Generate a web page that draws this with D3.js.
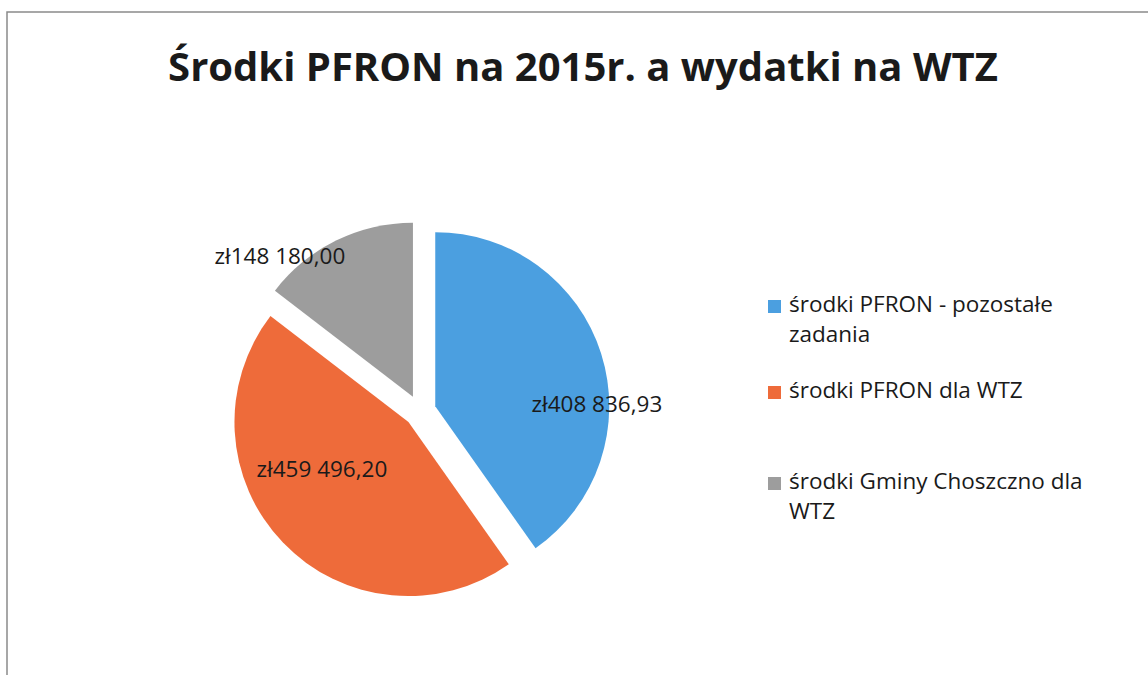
<!DOCTYPE html>
<html>
<head>
<meta charset="utf-8">
<script src="https://cdn.jsdelivr.net/npm/d3@7"></script>
<style>
  body { margin: 0; background: #fff; }
  text { font-family: "Open Sans", sans-serif; fill: #1a1a1a; }
</style>
</head>
<body>
<svg id="chart"></svg>
<script>
const categories = [
  "środki PFRON - pozostałe zadania",
  "środki PFRON dla WTZ",
  "środki Gminy Choszczno dla WTZ"
];
const values = [408836.93, 459496.20, 148180.00];
const valueLabels = ["zł408 836,93", "zł459 496,20", "zł148 180,00"];
const legendLines = [
  ["środki PFRON - pozostałe", "zadania"],
  ["środki PFRON dla WTZ"],
  ["środki Gminy Choszczno dla", "WTZ"]
];
const colors = ["#4b9fe0", "#ee6b3a", "#9d9d9d"];

const width = 1148;
const height = 675;

const svg = d3.select("#chart")
  .attr("width", width)
  .attr("height", height);

// chart frame (top and left edge visible in the scan)
svg.append("path")
  .attr("d", `M7,${height} L7,12 L${width},12`)
  .attr("fill", "none")
  .attr("stroke", "#8a8a8a")
  .attr("stroke-width", 1.5);

svg.append("text")
  .attr("x", 583)
  .attr("y", 81)
  .attr("text-anchor", "middle")
  .style("font-size", "40px")
  .style("font-weight", "bold")
  .text("Środki PFRON na 2015r. a wydatki na WTZ");

const cx = 420, cy = 411, radius = 174, explode = 16;

const pie = d3.pie().sort(null).value(d => d);
const arcs = pie(values);
const arc = d3.arc().innerRadius(0).outerRadius(radius);

const g = svg.append("g").attr("transform", `translate(${cx},${cy})`);

g.selectAll("path.slice")
  .data(arcs)
  .join("path")
  .classed("slice", true)
  .attr("d", arc)
  .attr("fill", (d, i) => colors[i])
  .attr("transform", d => {
    const mid = (d.startAngle + d.endAngle) / 2;
    return `translate(${Math.sin(mid) * explode},${-Math.cos(mid) * explode})`;
  });

// best-fit label spots as (angle in degrees from 12 o'clock, distance from centre)
const labelSpots = [[87.7, 177], [239.4, 114], [317.9, 209]];

g.selectAll("text.value")
  .data(arcs)
  .join("text")
  .classed("value", true)
  .attr("x", (d, i) => Math.sin(labelSpots[i][0] * Math.PI / 180) * labelSpots[i][1])
  .attr("y", (d, i) => -Math.cos(labelSpots[i][0] * Math.PI / 180) * labelSpots[i][1])
  .attr("dy", "0.35em")
  .attr("text-anchor", "middle")
  .style("font-size", "22.5px")
  .text((d, i) => valueLabels[i]);

// legend
const legendTop = [312, 398, 489];
const legend = svg.append("g");

const item = legend.selectAll("g.item")
  .data(categories)
  .join("g")
  .classed("item", true)
  .attr("transform", (d, i) => `translate(768,${legendTop[i]})`);

item.append("rect")
  .attr("x", 0)
  .attr("y", -12)
  .attr("width", 13)
  .attr("height", 13)
  .attr("fill", (d, i) => colors[i]);

item.append("text")
  .style("font-size", "22.5px")
  .selectAll("tspan")
  .data((d, i) => legendLines[i])
  .join("tspan")
  .attr("x", 21)
  .attr("y", (d, j) => j * 30)
  .text(d => d);
</script>
</body>
</html>
